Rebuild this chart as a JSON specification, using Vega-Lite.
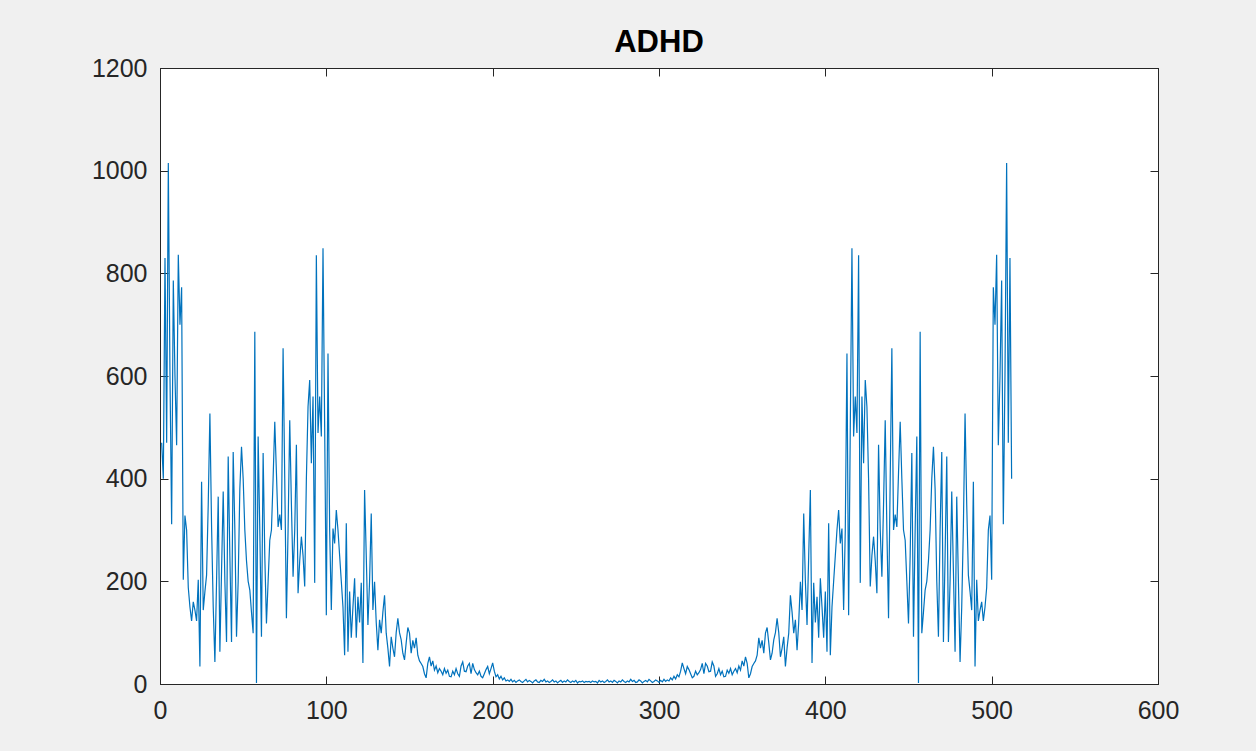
{
"$schema": "https://vega.github.io/schema/vega-lite/v6.json",
"width": 998,
"height": 616,
"autosize": {"type": "none"},
"padding": {"left": 160, "top": 68, "right": 98, "bottom": 67},
"background": "#f0f0f0",
"config": {
  "view": {"fill": "white", "stroke": "#262626", "strokeWidth": 1},
  "axis": {"grid": false, "domainColor": "#262626", "tickColor": "#262626", "labelColor": "#262626", "labelFont": "Liberation Sans", "labelFontSize": 25, "tickSize": -8, "tickWidth": 1, "titleFontSize": 0, "format": "d"}
},
"title": {"text": "ADHD", "font": "Liberation Sans", "fontSize": 31, "fontWeight": "bold", "color": "#000000", "anchor": "middle", "offset": -3},
"data": {"values": [
{"x":1,"y":470},{"x":2,"y":400},{"x":3,"y":830},{"x":4,"y":470},{"x":5,"y":1015},{"x":6,"y":600},{"x":7,"y":311},{"x":8,"y":786},{"x":9,"y":600},{"x":10,"y":465},
{"x":11,"y":836},{"x":12,"y":700},{"x":13,"y":773},{"x":14,"y":203},{"x":15,"y":328},{"x":16,"y":300},{"x":17,"y":188},{"x":18,"y":150},{"x":19,"y":123},{"x":20,"y":160},
{"x":21,"y":144},{"x":22,"y":123},{"x":23,"y":203},{"x":24,"y":34},{"x":25,"y":394},{"x":26,"y":144},{"x":27,"y":180},{"x":28,"y":212},{"x":29,"y":350},{"x":30,"y":527},
{"x":31,"y":308},{"x":32,"y":150},{"x":33,"y":43},{"x":34,"y":200},{"x":35,"y":365},{"x":36,"y":63},{"x":37,"y":220},{"x":38,"y":375},{"x":39,"y":200},{"x":40,"y":82},
{"x":41,"y":443},{"x":42,"y":250},{"x":43,"y":82},{"x":44,"y":452},{"x":45,"y":300},{"x":46,"y":92},{"x":47,"y":200},{"x":48,"y":380},{"x":49,"y":462},{"x":50,"y":400},
{"x":51,"y":300},{"x":52,"y":240},{"x":53,"y":200},{"x":54,"y":183},{"x":55,"y":140},{"x":56,"y":99},{"x":57,"y":686},{"x":58,"y":2},{"x":59,"y":482},{"x":60,"y":300},
{"x":61,"y":92},{"x":62,"y":450},{"x":63,"y":250},{"x":64,"y":118},{"x":65,"y":200},{"x":66,"y":280},{"x":67,"y":300},{"x":68,"y":400},{"x":69,"y":511},{"x":70,"y":411},
{"x":71,"y":306},{"x":72,"y":330},{"x":73,"y":300},{"x":74,"y":654},{"x":75,"y":400},{"x":76,"y":128},{"x":77,"y":300},{"x":78,"y":514},{"x":79,"y":350},{"x":80,"y":209},
{"x":81,"y":300},{"x":82,"y":466},{"x":83,"y":177},{"x":84,"y":240},{"x":85,"y":287},{"x":86,"y":250},{"x":87,"y":190},{"x":88,"y":400},{"x":89,"y":540},{"x":90,"y":592},
{"x":91,"y":430},{"x":92,"y":560},{"x":93,"y":197},{"x":94,"y":835},{"x":95,"y":489},{"x":96,"y":560},{"x":97,"y":482},{"x":98,"y":849},{"x":99,"y":500},{"x":100,"y":134},
{"x":101,"y":644},{"x":102,"y":300},{"x":103,"y":144},{"x":104,"y":303},{"x":105,"y":274},{"x":106,"y":339},{"x":107,"y":300},{"x":108,"y":250},{"x":109,"y":200},{"x":110,"y":150},
{"x":111,"y":56},{"x":112,"y":313},{"x":113,"y":63},{"x":114,"y":180},{"x":115,"y":90},{"x":116,"y":150},{"x":117,"y":206},{"x":118,"y":90},{"x":119,"y":170},{"x":120,"y":120},
{"x":121,"y":197},{"x":122,"y":41},{"x":123,"y":378},{"x":124,"y":250},{"x":125,"y":115},{"x":126,"y":200},{"x":127,"y":332},{"x":128,"y":144},{"x":129,"y":199},{"x":130,"y":120},
{"x":131,"y":66},{"x":132,"y":125},{"x":133,"y":99},{"x":134,"y":140},{"x":135,"y":173},{"x":136,"y":99},{"x":137,"y":70},{"x":138,"y":34},{"x":139,"y":92},{"x":140,"y":70},
{"x":141,"y":53},{"x":142,"y":100},{"x":143,"y":128},{"x":144,"y":100},{"x":145,"y":86},{"x":146,"y":60},{"x":147,"y":47},{"x":148,"y":80},{"x":149,"y":110},{"x":150,"y":99},
{"x":151,"y":60},{"x":152,"y":85},{"x":153,"y":70},{"x":154,"y":90},{"x":155,"y":56},{"x":156,"y":45},{"x":157,"y":40},{"x":158,"y":34},{"x":159,"y":20},{"x":160,"y":12},
{"x":161,"y":40},{"x":162,"y":53},{"x":163,"y":35},{"x":164,"y":45},{"x":165,"y":27},{"x":166,"y":35},{"x":167,"y":22},{"x":168,"y":30},{"x":169,"y":25},{"x":170,"y":18},
{"x":171,"y":30},{"x":172,"y":21},{"x":173,"y":27},{"x":174,"y":15},{"x":175,"y":14},{"x":176,"y":25},{"x":177,"y":18},{"x":178,"y":30},{"x":179,"y":20},{"x":180,"y":15},
{"x":181,"y":35},{"x":182,"y":43},{"x":183,"y":25},{"x":184,"y":24},{"x":185,"y":35},{"x":186,"y":40},{"x":187,"y":20},{"x":188,"y":40},{"x":189,"y":28},{"x":190,"y":22},
{"x":191,"y":18},{"x":192,"y":25},{"x":193,"y":15},{"x":194,"y":12},{"x":195,"y":20},{"x":196,"y":28},{"x":197,"y":34},{"x":198,"y":20},{"x":199,"y":30},{"x":200,"y":41},
{"x":201,"y":25},{"x":202,"y":14},{"x":203,"y":18},{"x":204,"y":10},{"x":205,"y":15},{"x":206,"y":8},{"x":207,"y":12},{"x":208,"y":6},{"x":209,"y":8},{"x":210,"y":5},
{"x":211,"y":9},{"x":212,"y":4},{"x":213,"y":7},{"x":214,"y":3},{"x":215,"y":6},{"x":216,"y":8},{"x":217,"y":5},{"x":218,"y":3},{"x":219,"y":6},{"x":220,"y":9},
{"x":221,"y":4},{"x":222,"y":7},{"x":223,"y":5},{"x":224,"y":2},{"x":225,"y":6},{"x":226,"y":8},{"x":227,"y":4},{"x":228,"y":3},{"x":229,"y":7},{"x":230,"y":5},
{"x":231,"y":9},{"x":232,"y":4},{"x":233,"y":6},{"x":234,"y":3},{"x":235,"y":5},{"x":236,"y":8},{"x":237,"y":4},{"x":238,"y":6},{"x":239,"y":2},{"x":240,"y":5},
{"x":241,"y":7},{"x":242,"y":3},{"x":243,"y":6},{"x":244,"y":4},{"x":245,"y":8},{"x":246,"y":5},{"x":247,"y":3},{"x":248,"y":6},{"x":249,"y":4},{"x":250,"y":7},
{"x":251,"y":2},{"x":252,"y":5},{"x":253,"y":4},{"x":254,"y":6},{"x":255,"y":3},{"x":256,"y":5},{"x":257,"y":4},
{"x":258,"y":5},{"x":259,"y":3},{"x":260,"y":6},{"x":261,"y":4},{"x":262,"y":5},{"x":263,"y":2},{"x":264,"y":7},{"x":265,"y":4},{"x":266,"y":6},{"x":267,"y":3},
{"x":268,"y":5},{"x":269,"y":8},{"x":270,"y":4},{"x":271,"y":6},{"x":272,"y":3},{"x":273,"y":7},{"x":274,"y":5},{"x":275,"y":2},{"x":276,"y":6},{"x":277,"y":4},
{"x":278,"y":8},{"x":279,"y":5},{"x":280,"y":3},{"x":281,"y":6},{"x":282,"y":4},{"x":283,"y":9},{"x":284,"y":5},{"x":285,"y":7},{"x":286,"y":3},{"x":287,"y":4},
{"x":288,"y":8},{"x":289,"y":6},{"x":290,"y":2},{"x":291,"y":5},{"x":292,"y":7},{"x":293,"y":4},{"x":294,"y":9},{"x":295,"y":6},{"x":296,"y":3},{"x":297,"y":5},
{"x":298,"y":8},{"x":299,"y":6},{"x":300,"y":3},{"x":301,"y":7},{"x":302,"y":4},{"x":303,"y":9},{"x":304,"y":5},{"x":305,"y":8},{"x":306,"y":6},{"x":307,"y":12},
{"x":308,"y":8},{"x":309,"y":15},{"x":310,"y":10},{"x":311,"y":18},{"x":312,"y":14},{"x":313,"y":25},{"x":314,"y":41},{"x":315,"y":30},{"x":316,"y":20},{"x":317,"y":34},
{"x":318,"y":28},{"x":319,"y":20},{"x":320,"y":12},{"x":321,"y":15},{"x":322,"y":25},{"x":323,"y":18},{"x":324,"y":22},{"x":325,"y":28},{"x":326,"y":40},{"x":327,"y":20},
{"x":328,"y":40},{"x":329,"y":35},{"x":330,"y":24},{"x":331,"y":25},{"x":332,"y":43},{"x":333,"y":35},{"x":334,"y":15},{"x":335,"y":20},{"x":336,"y":30},{"x":337,"y":18},
{"x":338,"y":25},{"x":339,"y":14},{"x":340,"y":15},{"x":341,"y":27},{"x":342,"y":21},{"x":343,"y":30},{"x":344,"y":18},{"x":345,"y":25},{"x":346,"y":30},{"x":347,"y":22},
{"x":348,"y":35},{"x":349,"y":27},{"x":350,"y":45},{"x":351,"y":35},{"x":352,"y":53},{"x":353,"y":40},{"x":354,"y":12},{"x":355,"y":20},{"x":356,"y":34},{"x":357,"y":40},
{"x":358,"y":45},{"x":359,"y":56},{"x":360,"y":90},{"x":361,"y":70},{"x":362,"y":85},{"x":363,"y":60},{"x":364,"y":99},{"x":365,"y":110},{"x":366,"y":80},{"x":367,"y":47},
{"x":368,"y":60},{"x":369,"y":86},{"x":370,"y":100},{"x":371,"y":128},{"x":372,"y":100},{"x":373,"y":53},{"x":374,"y":70},{"x":375,"y":92},{"x":376,"y":34},{"x":377,"y":70},
{"x":378,"y":99},{"x":379,"y":173},{"x":380,"y":140},{"x":381,"y":99},{"x":382,"y":125},{"x":383,"y":66},{"x":384,"y":120},{"x":385,"y":199},{"x":386,"y":144},{"x":387,"y":332},
{"x":388,"y":200},{"x":389,"y":115},{"x":390,"y":250},{"x":391,"y":378},{"x":392,"y":41},{"x":393,"y":197},{"x":394,"y":120},{"x":395,"y":170},{"x":396,"y":90},{"x":397,"y":206},
{"x":398,"y":150},{"x":399,"y":90},{"x":400,"y":180},{"x":401,"y":63},{"x":402,"y":313},{"x":403,"y":56},{"x":404,"y":150},{"x":405,"y":200},{"x":406,"y":250},{"x":407,"y":300},
{"x":408,"y":339},{"x":409,"y":274},{"x":410,"y":303},{"x":411,"y":144},{"x":412,"y":300},{"x":413,"y":644},{"x":414,"y":134},{"x":415,"y":500},{"x":416,"y":849},{"x":417,"y":482},
{"x":418,"y":560},{"x":419,"y":489},{"x":420,"y":835},{"x":421,"y":197},{"x":422,"y":560},{"x":423,"y":430},{"x":424,"y":592},{"x":425,"y":540},{"x":426,"y":400},{"x":427,"y":190},
{"x":428,"y":250},{"x":429,"y":287},{"x":430,"y":240},{"x":431,"y":177},{"x":432,"y":466},{"x":433,"y":300},{"x":434,"y":209},{"x":435,"y":350},{"x":436,"y":514},{"x":437,"y":300},
{"x":438,"y":128},{"x":439,"y":400},{"x":440,"y":654},{"x":441,"y":300},{"x":442,"y":330},{"x":443,"y":306},{"x":444,"y":411},{"x":445,"y":511},{"x":446,"y":400},{"x":447,"y":300},
{"x":448,"y":280},{"x":449,"y":200},{"x":450,"y":118},{"x":451,"y":250},{"x":452,"y":450},{"x":453,"y":92},{"x":454,"y":300},{"x":455,"y":482},{"x":456,"y":2},{"x":457,"y":686},
{"x":458,"y":99},{"x":459,"y":140},{"x":460,"y":183},{"x":461,"y":200},{"x":462,"y":240},{"x":463,"y":300},{"x":464,"y":400},{"x":465,"y":462},{"x":466,"y":380},{"x":467,"y":200},
{"x":468,"y":92},{"x":469,"y":300},{"x":470,"y":452},{"x":471,"y":82},{"x":472,"y":250},{"x":473,"y":443},{"x":474,"y":82},{"x":475,"y":200},{"x":476,"y":375},{"x":477,"y":220},
{"x":478,"y":63},{"x":479,"y":365},{"x":480,"y":200},{"x":481,"y":43},{"x":482,"y":150},{"x":483,"y":308},{"x":484,"y":527},{"x":485,"y":350},{"x":486,"y":212},{"x":487,"y":180},
{"x":488,"y":144},{"x":489,"y":394},{"x":490,"y":34},{"x":491,"y":203},{"x":492,"y":123},{"x":493,"y":144},{"x":494,"y":160},{"x":495,"y":123},{"x":496,"y":150},{"x":497,"y":188},
{"x":498,"y":300},{"x":499,"y":328},{"x":500,"y":203},{"x":501,"y":773},{"x":502,"y":700},{"x":503,"y":836},{"x":504,"y":465},{"x":505,"y":600},{"x":506,"y":786},{"x":507,"y":311},
{"x":508,"y":600},{"x":509,"y":1015},{"x":510,"y":470},{"x":511,"y":830},{"x":512,"y":400}
]},
"layer": [
  {
    "mark": {"type": "line", "stroke": "#0072BD", "strokeWidth": 1.2, "clip": true},
    "encoding": {
      "x": {"field": "x", "type": "quantitative", "scale": {"domain": [0, 600], "nice": false, "zero": false}, "axis": {"orient": "bottom", "values": [0,100,200,300,400,500,600], "title": null, "labelPadding": 22, "labelFlush": false}},
      "y": {"field": "y", "type": "quantitative", "scale": {"domain": [0, 1200], "nice": false}, "axis": {"orient": "left", "values": [0,200,400,600,800,1000,1200], "title": null, "labelPadding": 21}}
    }
  },
  {
    "mark": {"type": "line", "stroke": "#0072BD", "strokeWidth": 1.2, "opacity": 0, "clip": true},
    "encoding": {
      "x": {"field": "x", "type": "quantitative", "scale": {"domain": [0, 600], "nice": false, "zero": false}, "axis": {"orient": "top", "values": [0,100,200,300,400,500,600], "title": null, "labels": false}},
      "y": {"field": "y", "type": "quantitative", "scale": {"domain": [0, 1200], "nice": false}, "axis": {"orient": "right", "values": [0,200,400,600,800,1000,1200], "title": null, "labels": false}}
    }
  }
],
"resolve": {"axis": {"x": "independent", "y": "independent"}}
}
